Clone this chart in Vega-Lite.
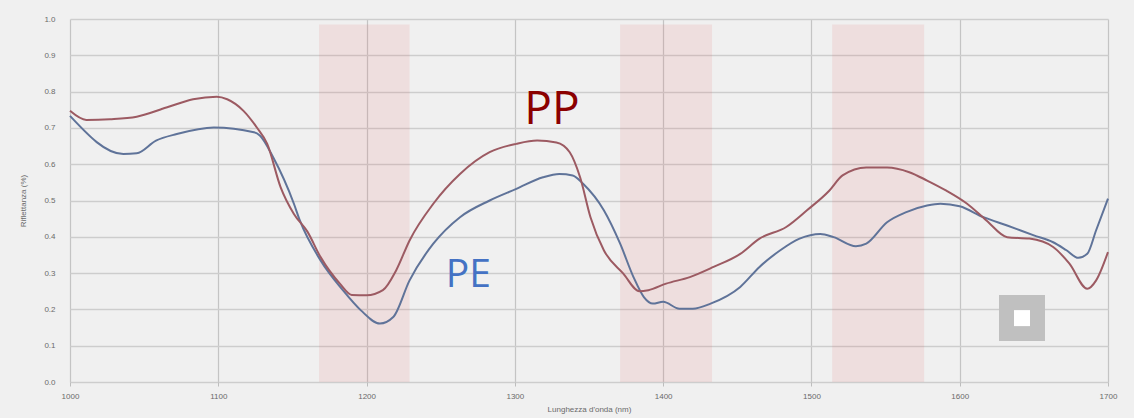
{
  "$schema": "https://vega.github.io/schema/vega-lite/v6.json",
  "autosize": {"type": "none"},
  "padding": {"left": 70, "top": 19, "right": 26, "bottom": 36},
  "width": 1038,
  "height": 363,
  "background": "#f0f0f0",
  "config": {
    "view": {"stroke": null},
    "font": "Liberation Sans",
    "axis": {"labelColor": "#6a6a6a", "titleColor": "#6a6a6a", "labelFontSize": 8, "titleFontSize": 8, "titleFontWeight": "normal", "domain": false, "labelOverlap": false, "labelFlush": false, "grid": true},
    "axisX": {"gridColor": "#c4c4c4", "gridWidth": 1.2, "tickColor": "#bdbdbd", "tickSize": 4, "labelPadding": 6, "titlePadding": 5},
    "axisY": {"gridColor": "#cdcdcd", "gridWidth": 1.6, "ticks": false, "labelPadding": 15, "titlePadding": 16}
  },
  "datasets": {
    "bands": [
      {"start": 1168, "end": 1229},
      {"start": 1371, "end": 1433},
      {"start": 1514, "end": 1576}
    ],
    "spectra": [
      {"series": "PE", "nm": 1000, "r": 0.733},
      {"series": "PE", "nm": 1036, "r": 0.628},
      {"series": "PE", "nm": 1045, "r": 0.630},
      {"series": "PE", "nm": 1058, "r": 0.665},
      {"series": "PE", "nm": 1072, "r": 0.683},
      {"series": "PE", "nm": 1097, "r": 0.701},
      {"series": "PE", "nm": 1124, "r": 0.688},
      {"series": "PE", "nm": 1128, "r": 0.679},
      {"series": "PE", "nm": 1137, "r": 0.619},
      {"series": "PE", "nm": 1151, "r": 0.491},
      {"series": "PE", "nm": 1155, "r": 0.445},
      {"series": "PE", "nm": 1169, "r": 0.335},
      {"series": "PE", "nm": 1184, "r": 0.253},
      {"series": "PE", "nm": 1196, "r": 0.198},
      {"series": "PE", "nm": 1209, "r": 0.161},
      {"series": "PE", "nm": 1218, "r": 0.179},
      {"series": "PE", "nm": 1229, "r": 0.280},
      {"series": "PE", "nm": 1245, "r": 0.381},
      {"series": "PE", "nm": 1263, "r": 0.454},
      {"series": "PE", "nm": 1283, "r": 0.500},
      {"series": "PE", "nm": 1301, "r": 0.532},
      {"series": "PE", "nm": 1319, "r": 0.564},
      {"series": "PE", "nm": 1330, "r": 0.573},
      {"series": "PE", "nm": 1339, "r": 0.569},
      {"series": "PE", "nm": 1346, "r": 0.546},
      {"series": "PE", "nm": 1360, "r": 0.473},
      {"series": "PE", "nm": 1371, "r": 0.381},
      {"series": "PE", "nm": 1380, "r": 0.289},
      {"series": "PE", "nm": 1387, "r": 0.234},
      {"series": "PE", "nm": 1393, "r": 0.216},
      {"series": "PE", "nm": 1400, "r": 0.221},
      {"series": "PE", "nm": 1411, "r": 0.202},
      {"series": "PE", "nm": 1420, "r": 0.202},
      {"series": "PE", "nm": 1432, "r": 0.216},
      {"series": "PE", "nm": 1452, "r": 0.262},
      {"series": "PE", "nm": 1465, "r": 0.317},
      {"series": "PE", "nm": 1479, "r": 0.363},
      {"series": "PE", "nm": 1492, "r": 0.395},
      {"series": "PE", "nm": 1506, "r": 0.408},
      {"series": "PE", "nm": 1515, "r": 0.399},
      {"series": "PE", "nm": 1530, "r": 0.374},
      {"series": "PE", "nm": 1537, "r": 0.381},
      {"series": "PE", "nm": 1551, "r": 0.440},
      {"series": "PE", "nm": 1564, "r": 0.468},
      {"series": "PE", "nm": 1578, "r": 0.486},
      {"series": "PE", "nm": 1587, "r": 0.491},
      {"series": "PE", "nm": 1600, "r": 0.484},
      {"series": "PE", "nm": 1616, "r": 0.454},
      {"series": "PE", "nm": 1632, "r": 0.431},
      {"series": "PE", "nm": 1650, "r": 0.404},
      {"series": "PE", "nm": 1663, "r": 0.385},
      {"series": "PE", "nm": 1672, "r": 0.363},
      {"series": "PE", "nm": 1680, "r": 0.342},
      {"series": "PE", "nm": 1686, "r": 0.353},
      {"series": "PE", "nm": 1692, "r": 0.418},
      {"series": "PE", "nm": 1700, "r": 0.505},
      {"series": "PP", "nm": 1000, "r": 0.747},
      {"series": "PP", "nm": 1011, "r": 0.722},
      {"series": "PP", "nm": 1027, "r": 0.724},
      {"series": "PP", "nm": 1045, "r": 0.731},
      {"series": "PP", "nm": 1065, "r": 0.756},
      {"series": "PP", "nm": 1083, "r": 0.779},
      {"series": "PP", "nm": 1099, "r": 0.786},
      {"series": "PP", "nm": 1106, "r": 0.779},
      {"series": "PP", "nm": 1117, "r": 0.747},
      {"series": "PP", "nm": 1126, "r": 0.701},
      {"series": "PP", "nm": 1133, "r": 0.656},
      {"series": "PP", "nm": 1142, "r": 0.537},
      {"series": "PP", "nm": 1151, "r": 0.463},
      {"series": "PP", "nm": 1160, "r": 0.415},
      {"series": "PP", "nm": 1169, "r": 0.344},
      {"series": "PP", "nm": 1182, "r": 0.271},
      {"series": "PP", "nm": 1190, "r": 0.240},
      {"series": "PP", "nm": 1200, "r": 0.239},
      {"series": "PP", "nm": 1211, "r": 0.253},
      {"series": "PP", "nm": 1220, "r": 0.308},
      {"series": "PP", "nm": 1229, "r": 0.390},
      {"series": "PP", "nm": 1245, "r": 0.491},
      {"series": "PP", "nm": 1263, "r": 0.573},
      {"series": "PP", "nm": 1283, "r": 0.633},
      {"series": "PP", "nm": 1301, "r": 0.656},
      {"series": "PP", "nm": 1315, "r": 0.665},
      {"series": "PP", "nm": 1328, "r": 0.660},
      {"series": "PP", "nm": 1337, "r": 0.633},
      {"series": "PP", "nm": 1344, "r": 0.564},
      {"series": "PP", "nm": 1351, "r": 0.454},
      {"series": "PP", "nm": 1360, "r": 0.363},
      {"series": "PP", "nm": 1373, "r": 0.299},
      {"series": "PP", "nm": 1384, "r": 0.250},
      {"series": "PP", "nm": 1390, "r": 0.253},
      {"series": "PP", "nm": 1402, "r": 0.271},
      {"series": "PP", "nm": 1418, "r": 0.289},
      {"series": "PP", "nm": 1434, "r": 0.317},
      {"series": "PP", "nm": 1452, "r": 0.353},
      {"series": "PP", "nm": 1465, "r": 0.395},
      {"series": "PP", "nm": 1483, "r": 0.427},
      {"series": "PP", "nm": 1497, "r": 0.473},
      {"series": "PP", "nm": 1512, "r": 0.527},
      {"series": "PP", "nm": 1521, "r": 0.569},
      {"series": "PP", "nm": 1537, "r": 0.591},
      {"series": "PP", "nm": 1551, "r": 0.591},
      {"series": "PP", "nm": 1566, "r": 0.578},
      {"series": "PP", "nm": 1578, "r": 0.555},
      {"series": "PP", "nm": 1591, "r": 0.527},
      {"series": "PP", "nm": 1605, "r": 0.491},
      {"series": "PP", "nm": 1618, "r": 0.445},
      {"series": "PP", "nm": 1632, "r": 0.399},
      {"series": "PP", "nm": 1647, "r": 0.395},
      {"series": "PP", "nm": 1663, "r": 0.372},
      {"series": "PP", "nm": 1674, "r": 0.326},
      {"series": "PP", "nm": 1686, "r": 0.257},
      {"series": "PP", "nm": 1692, "r": 0.280},
      {"series": "PP", "nm": 1700, "r": 0.358}
    ],
    "labels": [
      {"series": "PP", "nm": 1325, "r": 0.711},
      {"series": "PE", "nm": 1268.6, "r": 0.262}
    ],
    "icon": [
      {"nm": 1642, "r": 0.176}
    ]
  },
  "layer": [
    {
      "data": {"name": "bands"},
      "mark": {"type": "rect", "color": "#e06666", "opacity": 0.13},
      "encoding": {
        "x": {"field": "start", "type": "quantitative",
              "scale": {"domain": [1000, 1700], "nice": false, "zero": false},
              "axis": {"values": [1000, 1100, 1200, 1300, 1400, 1500, 1600, 1700], "format": "d", "title": "Lunghezza d'onda (nm)"}},
        "x2": {"field": "end"},
        "y": {"datum": 0, "type": "quantitative",
              "scale": {"domain": [0, 1], "nice": false},
              "axis": {"values": [0, 0.1, 0.2, 0.3, 0.4, 0.5, 0.6, 0.7, 0.8, 0.9, 1.0], "format": ".1f", "title": "Riflettanza (%)"}},
        "y2": {"datum": 0.985}
      }
    },
    {
      "data": {"name": "spectra"},
      "mark": {"type": "line", "interpolate": "monotone", "strokeWidth": 2},
      "encoding": {
        "x": {"field": "nm", "type": "quantitative",
              "axis": {"values": [1000, 1100, 1200, 1300, 1400, 1500, 1600, 1700], "format": "d", "title": "Lunghezza d'onda (nm)"}},
        "y": {"field": "r", "type": "quantitative",
              "axis": {"values": [0, 0.1, 0.2, 0.3, 0.4, 0.5, 0.6, 0.7, 0.8, 0.9, 1.0], "format": ".1f", "title": "Riflettanza (%)"}},
        "color": {"field": "series", "type": "nominal",
                  "scale": {"domain": ["PP", "PE"], "range": ["#9c5a62", "#5f7399"]}, "legend": null}
      }
    },
    {
      "data": {"name": "labels"},
      "mark": {"type": "text", "font": "Open Sans", "align": "center", "baseline": "alphabetic"},
      "encoding": {
        "x": {"field": "nm", "type": "quantitative",
              "axis": {"values": [1000, 1100, 1200, 1300, 1400, 1500, 1600, 1700], "format": "d", "title": "Lunghezza d'onda (nm)"}},
        "y": {"field": "r", "type": "quantitative",
              "axis": {"values": [0, 0.1, 0.2, 0.3, 0.4, 0.5, 0.6, 0.7, 0.8, 0.9, 1.0], "format": ".1f", "title": "Riflettanza (%)"}},
        "text": {"field": "series"},
        "size": {"field": "series", "type": "nominal", "scale": {"domain": ["PP", "PE"], "range": [46, 39]}, "legend": null},
        "color": {"field": "series", "type": "nominal",
                  "scale": {"domain": ["PP", "PE"], "range": ["#8b0000", "#4472c4"]}, "legend": null}
      }
    },
    {
      "data": {"name": "icon"},
      "mark": {"type": "point", "shape": "square", "filled": true, "size": 2116, "color": "#c0c0c0", "opacity": 1, "strokeWidth": 0},
      "encoding": {
        "x": {"field": "nm", "type": "quantitative",
              "axis": {"values": [1000, 1100, 1200, 1300, 1400, 1500, 1600, 1700], "format": "d", "title": "Lunghezza d'onda (nm)"}},
        "y": {"field": "r", "type": "quantitative",
              "axis": {"values": [0, 0.1, 0.2, 0.3, 0.4, 0.5, 0.6, 0.7, 0.8, 0.9, 1.0], "format": ".1f", "title": "Riflettanza (%)"}}
      }
    },
    {
      "data": {"name": "icon"},
      "mark": {"type": "point", "shape": "square", "filled": true, "size": 256, "color": "#ffffff", "opacity": 1, "strokeWidth": 0},
      "encoding": {
        "x": {"field": "nm", "type": "quantitative",
              "axis": {"values": [1000, 1100, 1200, 1300, 1400, 1500, 1600, 1700], "format": "d", "title": "Lunghezza d'onda (nm)"}},
        "y": {"field": "r", "type": "quantitative",
              "axis": {"values": [0, 0.1, 0.2, 0.3, 0.4, 0.5, 0.6, 0.7, 0.8, 0.9, 1.0], "format": ".1f", "title": "Riflettanza (%)"}}
      }
    }
  ],
  "resolve": {"scale": {"color": "independent"}}
}
